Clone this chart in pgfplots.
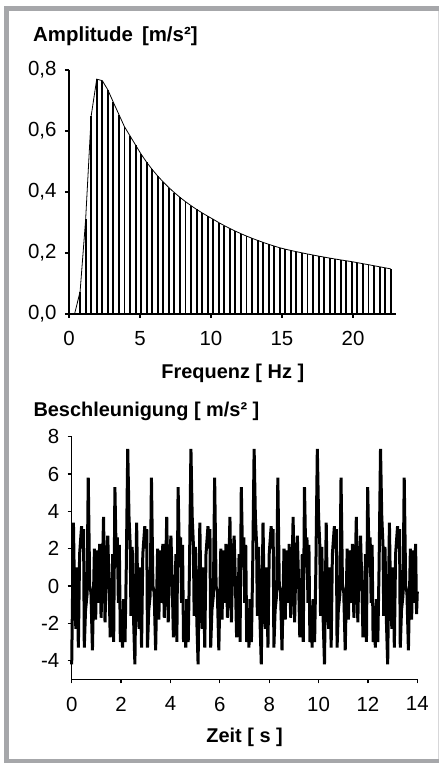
\documentclass[border=0pt]{standalone}
\usepackage{fontspec}
\setmainfont{Liberation Sans}
\usepackage{pgfplots}
\pgfplotsset{compat=1.18}
\definecolor{framegray}{RGB}{166,167,170}
\definecolor{edgegray}{RGB}{215,215,217}
\begin{document}
\begin{tikzpicture}
\useasboundingbox (0,0) rectangle (439bp,763bp);
\fill[white] (0,0) rectangle (439bp,763bp);
% frame
\fill[framegray] (4bp,0) rectangle (9.3bp,757bp);
\fill[framegray] (4bp,752bp) rectangle (439bp,757bp);
\fill[framegray] (4bp,0) rectangle (439bp,4bp);
\draw[edgegray, line width=1bp] (438.3bp,4bp) -- (438.3bp,752bp);

\pgfplotsset{
  mystyle/.style={
    scale only axis,
    anchor=south west,
    axis x line=bottom, axis y line=left,
    axis line style={-, line width=1.2bp, black},
    tick align=outside,
    major tick length=4bp,
    tick style={line width=1.2bp, black},
    tick label style={font=\fontsize{20.5}{24}\selectfont},
    xticklabel style={yshift=-10bp},
    yticklabel style={xshift=-5bp},
    /pgf/number format/assume math mode=true,
    clip=false,
  }
}

% ---------------- top: spectrum ----------------
\begin{axis}[mystyle,
  at={(69bp,449bp)}, width=326.6bp, height=244bp,
  xmin=0, xmax=23, ymin=0, ymax=0.8,
  xtick={0,5,10,15,20}, ytick={0,0.2,0.4,0.6,0.8},
  yticklabel style={/pgf/number format/.cd, fixed, fixed zerofill, precision=1, use comma},
]
\addplot[ycomb, black, line width=1.9bp] coordinates {
(0.781,0.073)(1.172,0.31)(1.563,0.65)(1.953,0.77)(2.344,0.765)(2.734,0.735)
(3.125,0.694)(3.516,0.654)(3.906,0.614)(4.297,0.584)(4.688,0.554)(5.078,0.524)
(5.469,0.4975)(5.859,0.4738)(6.250,0.4522)(6.641,0.4325)(7.031,0.4145)(7.422,0.3979)
(7.813,0.3825)(8.203,0.3684)(8.594,0.3552)(8.984,0.3429)(9.375,0.3315)(9.766,0.3208)
(10.156,0.3105)(10.547,0.2997)(10.938,0.2897)(11.328,0.2803)(11.719,0.2716)(12.109,0.2633)
(12.500,0.2555)(12.891,0.2482)(13.281,0.2413)(13.672,0.2348)(14.063,0.2286)(14.453,0.2227)
(14.844,0.2171)(15.234,0.2125)(15.625,0.2083)(16.016,0.2043)(16.406,0.2005)(16.797,0.1968)
(17.188,0.1933)(17.578,0.1898)(17.969,0.1865)(18.359,0.1833)(18.750,0.1802)(19.141,0.1773)
(19.531,0.1744)(19.922,0.1716)(20.313,0.1683)(20.703,0.1649)(21.094,0.1616)(21.484,0.1582)
(21.875,0.1548)(22.266,0.1514)(22.656,0.1480)
};
\addplot[black, line width=0.8bp, sharp plot] coordinates {
(0.391,0.0)
(0.781,0.073)(1.172,0.31)(1.563,0.65)(1.953,0.77)(2.344,0.765)(2.734,0.735)
(3.125,0.694)(3.516,0.654)(3.906,0.614)(4.297,0.584)(4.688,0.554)(5.078,0.524)
(5.469,0.4975)(5.859,0.4738)(6.250,0.4522)(6.641,0.4325)(7.031,0.4145)(7.422,0.3979)
(7.813,0.3825)(8.203,0.3684)(8.594,0.3552)(8.984,0.3429)(9.375,0.3315)(9.766,0.3208)
(10.156,0.3105)(10.547,0.2997)(10.938,0.2897)(11.328,0.2803)(11.719,0.2716)(12.109,0.2633)
(12.500,0.2555)(12.891,0.2482)(13.281,0.2413)(13.672,0.2348)(14.063,0.2286)(14.453,0.2227)
(14.844,0.2171)(15.234,0.2125)(15.625,0.2083)(16.016,0.2043)(16.406,0.2005)(16.797,0.1968)
(17.188,0.1933)(17.578,0.1898)(17.969,0.1865)(18.359,0.1833)(18.750,0.1802)(19.141,0.1773)
(19.531,0.1744)(19.922,0.1716)(20.313,0.1683)(20.703,0.1649)(21.094,0.1616)(21.484,0.1582)
(21.875,0.1548)(22.266,0.1514)(22.656,0.1480)
};
\end{axis}

% ---------------- bottom: time signal ----------------
\begin{axis}[mystyle,
  at={(71.7bp,83.7bp)}, width=345.6bp, height=242.6bp,
  xmin=0, xmax=14, ymin=-5, ymax=8,
  xtick={0,2,4,6,8,10,12,14}, ytick={-4,-2,0,2,4,6,8},
]
\addplot[black, line width=3bp, sharp plot, line join=miter, miter limit=3] coordinates {
(0.00,-4.2)(0.07,3.4)(0.12,-0.9)(0.17,-2.3)(0.21,1.0)(0.27,-3.3)(0.32,1.7)(0.40,3.2)(0.44,2.0)(0.48,3.05)
(0.51,-3.3)(0.56,-1.3)(0.62,-0.5)(0.67,5.8)(0.73,0.0)(0.78,-0.35)(0.84,-3.45)(0.89,0.0)(0.92,2.0)(0.97,-1.8)
(1.01,0.9)(1.05,1.9)(1.08,-0.9)(1.13,2.25)(1.19,-1.7)(1.24,0.55)(1.29,3.7)(1.35,-1.95)(1.40,1.1)(1.46,2.7)
(1.51,0.3)(1.56,-2.75)(1.62,-1.25)(1.66,1.7)(1.70,-3.0)(1.75,5.3)(1.81,1.0)(1.85,2.6)(1.89,-0.9)(1.93,2.2)
(1.97,-3.0)(2.02,-1.6)(2.06,-3.3)(2.10,-0.7)(2.16,-3.0)(2.21,0.9)(2.27,7.35)(2.32,3.75)(2.37,2.2)(2.40,-1.6)
(2.45,2.1)(2.51,-1.95)
(2.56,-4.2)(2.63,3.4)(2.68,-0.9)(2.73,-2.3)(2.77,1.0)(2.83,-3.3)(2.88,1.7)(2.96,3.2)(3.00,2.0)(3.04,3.05)
(3.07,-3.3)(3.12,-1.3)(3.18,-0.5)(3.23,5.8)(3.29,0.0)(3.34,-0.35)(3.40,-3.45)(3.45,0.0)(3.48,2.0)(3.53,-1.8)
(3.57,0.9)(3.61,1.9)(3.64,-0.9)(3.69,2.25)(3.75,-1.7)(3.80,0.55)(3.85,3.7)(3.91,-1.95)(3.96,1.1)(4.02,2.7)
(4.07,0.3)(4.12,-2.75)(4.18,-1.25)(4.22,1.7)(4.26,-3.0)(4.31,5.3)(4.37,1.0)(4.41,2.6)(4.45,-0.9)(4.49,2.2)
(4.53,-3.0)(4.58,-1.6)(4.62,-3.3)(4.66,-0.7)(4.72,-3.0)(4.77,0.9)(4.83,7.35)(4.88,3.75)(4.93,2.2)(4.96,-1.6)
(5.01,2.1)(5.07,-1.95)
(5.12,-4.2)(5.19,3.4)(5.24,-0.9)(5.29,-2.3)(5.33,1.0)(5.39,-3.3)(5.44,1.7)(5.52,3.2)(5.56,2.0)(5.60,3.05)
(5.63,-3.3)(5.68,-1.3)(5.74,-0.5)(5.79,5.8)(5.85,0.0)(5.90,-0.35)(5.96,-3.45)(6.01,0.0)(6.04,2.0)(6.09,-1.8)
(6.13,0.9)(6.17,1.9)(6.20,-0.9)(6.25,2.25)(6.31,-1.7)(6.36,0.55)(6.41,3.7)(6.47,-1.95)(6.52,1.1)(6.58,2.7)
(6.63,0.3)(6.68,-2.75)(6.74,-1.25)(6.78,1.7)(6.82,-3.0)(6.87,5.3)(6.93,1.0)(6.97,2.6)(7.01,-0.9)(7.05,2.2)
(7.09,-3.0)(7.14,-1.6)(7.18,-3.3)(7.22,-0.7)(7.28,-3.0)(7.33,0.9)(7.39,7.35)(7.44,3.75)(7.49,2.2)(7.52,-1.6)
(7.57,2.1)(7.63,-1.95)
(7.68,-4.2)(7.75,3.4)(7.80,-0.9)(7.85,-2.3)(7.89,1.0)(7.95,-3.3)(8.00,1.7)(8.08,3.2)(8.12,2.0)(8.16,3.05)
(8.19,-3.3)(8.24,-1.3)(8.30,-0.5)(8.35,5.8)(8.41,0.0)(8.46,-0.35)(8.52,-3.45)(8.57,0.0)(8.60,2.0)(8.65,-1.8)
(8.69,0.9)(8.73,1.9)(8.76,-0.9)(8.81,2.25)(8.87,-1.7)(8.92,0.55)(8.97,3.7)(9.03,-1.95)(9.08,1.1)(9.14,2.7)
(9.19,0.3)(9.24,-2.75)(9.30,-1.25)(9.34,1.7)(9.38,-3.0)(9.43,5.3)(9.49,1.0)(9.53,2.6)(9.57,-0.9)(9.61,2.2)
(9.65,-3.0)(9.70,-1.6)(9.74,-3.3)(9.78,-0.7)(9.84,-3.0)(9.89,0.9)(9.95,7.35)(10.00,3.75)(10.05,2.2)(10.08,-1.6)
(10.13,2.1)(10.19,-1.95)
(10.24,-4.2)(10.31,3.4)(10.36,-0.9)(10.41,-2.3)(10.45,1.0)(10.51,-3.3)(10.56,1.7)(10.64,3.2)(10.68,2.0)(10.72,3.05)
(10.75,-3.3)(10.80,-1.3)(10.86,-0.5)(10.91,5.8)(10.97,0.0)(11.02,-0.35)(11.08,-3.45)(11.13,0.0)(11.16,2.0)(11.21,-1.8)
(11.25,0.9)(11.29,1.9)(11.32,-0.9)(11.37,2.25)(11.43,-1.7)(11.48,0.55)(11.53,3.7)(11.59,-1.95)(11.64,1.1)(11.70,2.7)
(11.75,0.3)(11.80,-2.75)(11.86,-1.25)(11.90,1.7)(11.94,-3.0)(11.99,5.3)(12.05,1.0)(12.09,2.6)(12.13,-0.9)(12.17,2.2)
(12.21,-3.0)(12.26,-1.6)(12.30,-3.3)(12.34,-0.7)(12.40,-3.0)(12.45,0.9)(12.51,7.35)(12.56,3.75)(12.61,2.2)(12.64,-1.6)
(12.69,2.1)(12.75,-1.95)
(12.80,-4.2)(12.87,3.4)(12.92,-0.9)(12.97,-2.3)(13.01,1.0)(13.07,-3.3)(13.12,1.7)(13.20,3.2)(13.24,2.0)(13.28,3.05)
(13.31,-3.3)(13.36,-1.3)(13.42,-0.5)(13.47,5.8)(13.53,0.0)(13.58,-0.35)(13.64,-3.45)(13.69,0.0)(13.72,2.0)(13.77,-1.8)
(13.81,0.9)(13.85,1.9)(13.88,-0.9)(13.93,2.25)(13.97,-1.5)(14.00,-0.3)
};
\end{axis}

% ---------------- texts ----------------
\node[anchor=base west, inner sep=0pt, font=\fontsize{20.5}{24}\selectfont\bfseries] at (33bp,721.3bp) {Amplitude\hspace{9bp}[m/s²]};
\node[anchor=base, inner sep=0pt, font=\fontsize{20}{24}\selectfont\bfseries] at (232.8bp,384.7bp) {Frequenz [ Hz ]};
\node[anchor=base west, inner sep=0pt, font=\fontsize{20}{24}\selectfont\bfseries] at (33.3bp,346.3bp) {Beschleunigung [ m/s² ]};
\node[anchor=base, inner sep=0pt, font=\fontsize{20}{24}\selectfont\bfseries] at (244.6bp,20.3bp) {Zeit [ s ]};
\end{tikzpicture}
\end{document}
